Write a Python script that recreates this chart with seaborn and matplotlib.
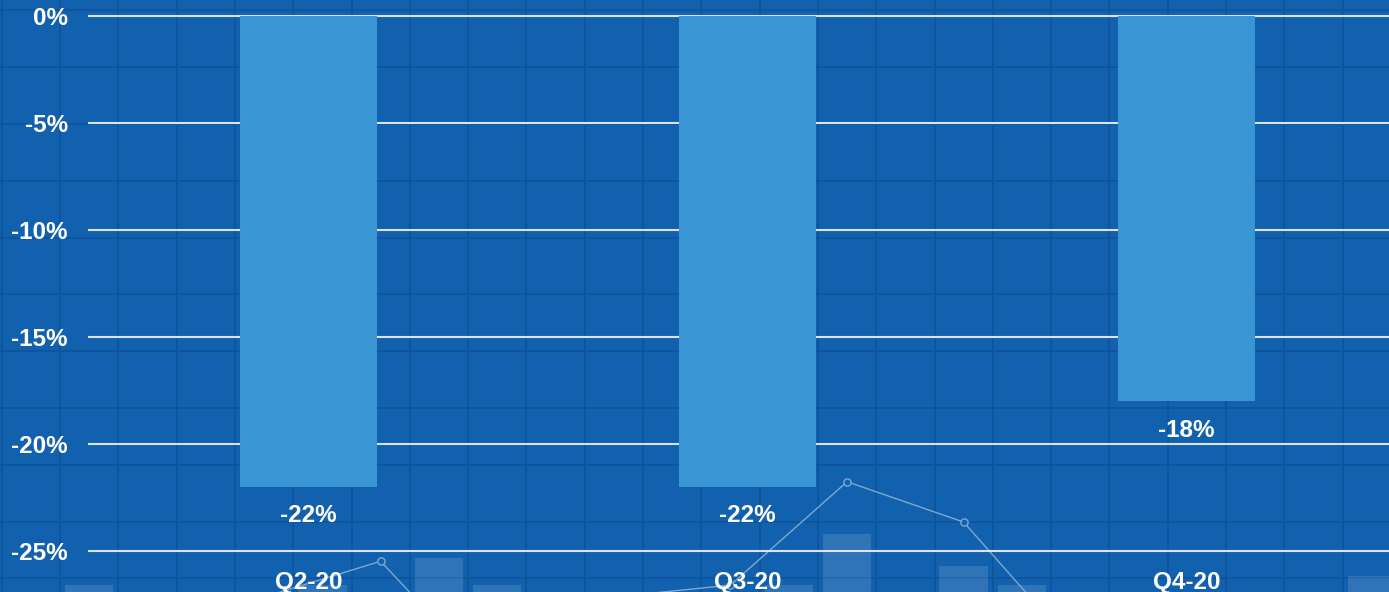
import numpy as np
import pandas as pd
import matplotlib
matplotlib.use("Agg")
import matplotlib.pyplot as plt
import seaborn as sns

# Quarterly change values
quarters = ["Q2-20", "Q3-20", "Q4-20"]
changes = [-22, -22, -18]
value_labels = ["-22%", "-22%", "-18%"]

# Y axis ticks
y_ticks = [0, -5, -10, -15, -20, -25]
y_tick_labels = ["0%", "-5%", "-10%", "-15%", "-20%", "-25%"]

# Decorative backdrop: faint column chart and trend line (grid-cell units)
deco_bar_cols = [1.5, 5.5, 7.5, 8.5, 13.5, 14.5, 16.5, 17.5, 23.5]
deco_bar_tops = [10.12, 10.12, 9.64, 10.12, 10.12, 9.22, 9.78, 10.12, 9.96]
deco_line_cols = [4.5, 6.5, 8.5, 10.5, 12.5, 14.5, 16.5, 18.5]
deco_line_rows = [10.33, 9.70, 11.89, 10.33, 10.12, 8.30, 9.01, 11.33]

BG = "#1261AE"
BG_GRID = "#0F559E"
BAR = "#3A95D4"
GRID = "#DCE2EA"
FONT = "Liberation Sans"
FS = 17.5

sns.set_style("white")
plt.rcParams["font.family"] = [FONT, "DejaVu Sans"]

W, H, DPI = 1389, 592, 100
fig = plt.figure(figsize=(W / DPI, H / DPI), dpi=DPI, facecolor=BG)

# ---- backdrop: tiled grid with faint illustrative chart ----
cell_w, cell_h = 58.3, 56.8
off_x, off_y = 1.7, 10.3
bg = fig.add_axes([0, 0, 1, 1], zorder=0)
bg.set_facecolor(BG)
bg.set_xlim(-off_x / cell_w, (W - off_x) / cell_w)
bg.set_ylim((H - off_y) / cell_h, -off_y / cell_h)
for c in range(0, 25):
    bg.axvline(c, color=BG_GRID, lw=1.4, zorder=1)
for r in range(0, 11):
    bg.axhline(r, color=BG_GRID, lw=1.4, zorder=1)
bottom_row = 12
bg.bar(deco_bar_cols, [bottom_row - t for t in deco_bar_tops], bottom=deco_bar_tops,
       width=0.83, color="white", alpha=0.12, linewidth=0, zorder=2)
bg.plot(deco_line_cols, deco_line_rows, color="#7DA8D2", lw=1.0, zorder=3,
        marker="o", markersize=5.2, markerfacecolor=BG, markeredgecolor="#7DA8D2",
        markeredgewidth=1.0)
bg.axis("off")

# ---- main chart ----
left = 88 / W
ax = fig.add_axes([left, 0, 1 - left, 1], zorder=1)
ax.patch.set_alpha(0)

df = pd.DataFrame({"quarter": quarters, "change": changes})
sns.barplot(data=df, x="quarter", y="change", color=BAR, saturation=1,
            width=0.312, ax=ax, zorder=2, linewidth=0)

ax.set_xlim(-0.502, 2.461)
ax.set_ylim(-26.92, 0.748)
ax.set_yticks(y_ticks)
ax.set_yticklabels(y_tick_labels)
ax.yaxis.grid(True, color=GRID, lw=1.5, zorder=0)
ax.xaxis.grid(False)
ax.set_axisbelow(True)
for s in ax.spines.values():
    s.set_visible(False)
ax.set_xlabel("")
ax.set_ylabel("")

ax.tick_params(axis="y", length=0, pad=14.4, labelsize=FS, labelcolor="white")
ax.tick_params(axis="x", length=0, pad=-2.5, labelsize=FS, labelcolor="white")
for lbl in ax.get_yticklabels() + ax.get_xticklabels():
    lbl.set_fontweight("bold")
for lbl in ax.get_xticklabels():
    lbl.set_va("baseline")

for i, (v, t) in enumerate(zip(changes, value_labels)):
    ax.annotate(t, (i, v), xytext=(0, -35.5), textcoords="offset pixels",
                ha="center", va="baseline", color="white", fontsize=FS,
                fontweight="bold", zorder=4)

fig.savefig("out.png", dpi=DPI, facecolor=BG)
